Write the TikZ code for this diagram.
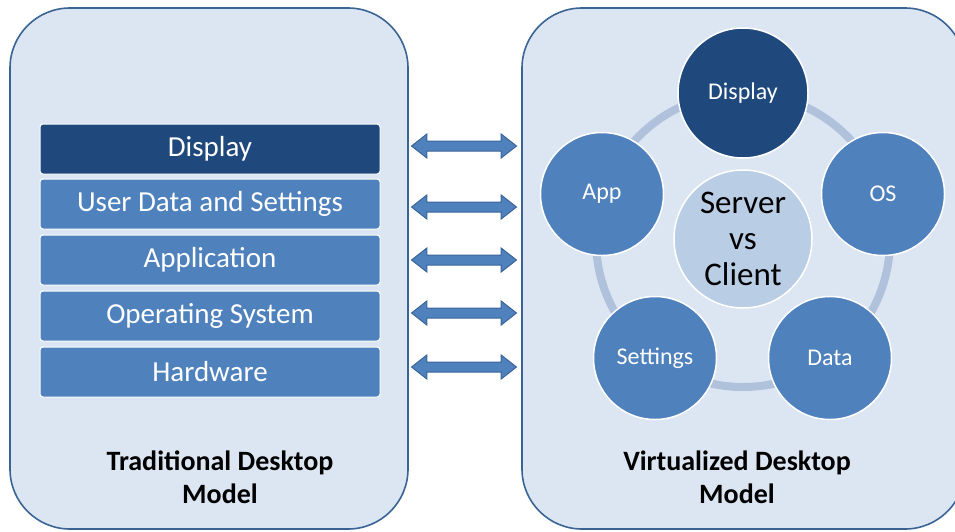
\documentclass[tikz,border=0pt]{standalone}
\usepackage{fontspec}
\setmainfont{Carlito}
\usetikzlibrary{shapes.arrows}
\definecolor{panelfill}{HTML}{DCE6F2}
\definecolor{paneldraw}{HTML}{3A6494}
\definecolor{barblue}{HTML}{4F81BD}
\definecolor{darkblue}{HTML}{1F497D}
\definecolor{centerfill}{HTML}{B9CDE5}
\definecolor{ringcol}{HTML}{B0C1DC}
\definecolor{arrowdraw}{HTML}{3B659A}
\tikzset{
  panel/.style={draw=paneldraw, line width=1.6pt, fill=panelfill, rounded corners=60pt},
  barbox/.style={draw=white, line width=1pt, fill=barblue, rounded corners=3pt,
    minimum width=340pt, minimum height=50pt, inner sep=0pt, text=white,
    font=\fontsize{29}{32}\selectfont},
  topbar/.style={barbox, fill=darkblue},
  bubble/.style={circle, draw=white, line width=1.5pt, fill=barblue, minimum size=123pt,
    inner sep=0pt, text=white, font=\fontsize{24}{26}\selectfont},
  dbl/.style={double arrow, draw=arrowdraw, line width=1pt, fill=barblue,
    minimum width=23pt, minimum height=105pt, double arrow head extend=7pt,
    double arrow tip angle=76, inner sep=4.5pt},
  title/.style={font=\bfseries\fontsize{28}{33}\selectfont, align=center, text=black},
}
\begin{document}
\begin{tikzpicture}[x=1pt,y=-1pt]
\useasboundingbox (0,0) rectangle (955,531);
\begin{scope}
\clip (0,0) rectangle (955,531);
\draw[panel] (10,8) rectangle (408,529);
\draw[panel] (522,8) rectangle (965,529);
\end{scope}
% bars
\node[topbar] (b1) at (210,149) {Display};
\node[barbox] (b2) at (210,204) {User Data and Settings};
\node[barbox] (b3) at (210,260) {Application};
\node[barbox] (b4) at (210,316) {Operating System};
\node[barbox] (b5) at (210,372) {Hardware};
% arrows
\node[dbl] (a1) at (464,146) {};
\node[dbl] (a2) at (464,207) {};
\node[dbl] (a3) at (464,260) {};
\node[dbl] (a4) at (464,313) {};
\node[dbl] (a5) at (464,367) {};
% ring
\coordinate (rc) at (743,240);
\draw[ringcol, line width=8pt] (rc) circle[radius=147pt];
% bubbles
\node[bubble, fill=darkblue, minimum size=130pt] (cd) at (743,93) {Display};
\node[bubble] (ca) at (602,194) {App};
\node[bubble] (co) at (883,194) {OS};
\node[bubble] (cs) at (655,358) {Settings};
\node[bubble] (cda) at (830,358) {Data};
\node[bubble, fill=centerfill, minimum size=138pt, text=black, align=center,
  font=\fontsize{33}{36}\selectfont] (cc) at (743,239) {Server\\vs\\Client};
% titles
\node[title] (t1) at (220,477) {Traditional Desktop\\Model};
\node[title] (t2) at (737,477) {Virtualized Desktop\\Model};
\end{tikzpicture}
\end{document}
